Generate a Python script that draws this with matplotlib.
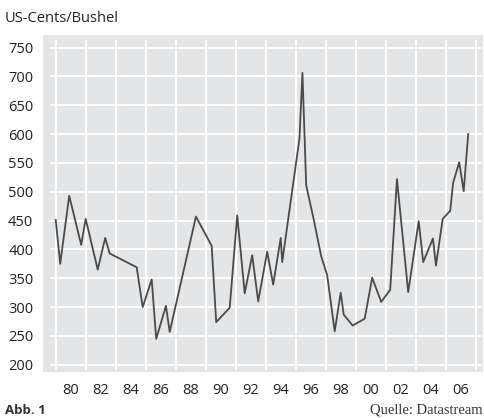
import matplotlib
matplotlib.use("Agg")
import matplotlib.pyplot as plt
from matplotlib.patches import Rectangle

# Preis in US-Cents/Bushel
jahr = [1979.0, 1979.3, 1979.9, 1980.7, 1981.0, 1981.8, 1982.3, 1982.6, 1984.4,
        1984.8, 1985.4, 1985.7, 1986.35, 1986.6, 1988.35, 1989.4, 1989.7, 1990.6,
        1991.1, 1991.6, 1992.1, 1992.5, 1993.1, 1993.5, 1994.0, 1994.1, 1995.25,
        1995.45, 1995.7, 1996.2, 1996.7, 1997.1, 1997.6, 1998.0, 1998.2, 1998.8,
        1999.6, 2000.1, 2000.7, 2001.3, 2001.75, 2002.5, 2003.2, 2003.5, 2004.15,
        2004.35, 2004.8, 2005.3, 2005.5, 2005.9, 2006.2, 2006.5]
preis = [451, 375, 493, 408, 453, 365, 420, 393, 369,
         300, 348, 245, 302, 257, 457, 406, 274, 299,
         459, 324, 390, 310, 396, 339, 420, 378, 592,
         706, 511, 452, 388, 355, 258, 325, 287, 268,
         280, 351, 309, 330, 522, 326, 449, 378, 419,
         372, 453, 467, 516, 551, 501, 600]

y_ticks = [200, 250, 300, 350, 400, 450, 500, 550, 600, 650, 700, 750]
x_ticks = list(range(1980, 2007, 2))
x_labels = ['%02d' % (j % 100) for j in x_ticks]
x_grid = list(range(1979, 2008, 2))

plt.rcParams['font.family'] = ['Open Sans', 'DejaVu Sans']

W, H = 485, 418
fig = plt.figure(figsize=(W / 100, H / 100), dpi=100)

grau = '#e4e5e7'
# Hintergrundfeld etwas groesser als die Achse
fig.patches.append(Rectangle((43 / W, 1 - 372 / H), (483 - 43) / W, (372 - 35) / H,
                             transform=fig.transFigure, facecolor=grau,
                             edgecolor='none', zorder=-10))

ax = fig.add_axes([50 / W, 1 - 370 / H, (482 - 50) / W, (370 - 40) / H])
ax.set_facecolor(grau)
ax.set_zorder(1)

ax.plot(jahr, preis, color='#4a4a4a', lw=1.3, zorder=3)

ax.set_xlim(1978.62, 2007.42)
ax.set_ylim(191, 763)

ax.set_yticks(y_ticks)
ax.set_xticks(x_ticks)
ax.set_xticklabels(x_labels)
ax.set_xticks(x_grid, minor=True)
ax.grid(False)
ax.grid(True, which='minor', axis='x', color='white', lw=1.4, zorder=1)
ax.grid(True, which='major', axis='y', color='white', lw=1.4, zorder=1)

ax.tick_params(axis='both', which='both', length=0, labelsize=10.5, colors='#222222')
ax.tick_params(axis='y', pad=12)
ax.tick_params(axis='x', pad=9)
for s in ax.spines.values():
    s.set_visible(False)

fig.text(5 / W, 1 - 18 / H, 'US-Cents/Bushel', fontsize=10.5, va='center', ha='left',
         color='#222222')
fig.text(5 / W, 1 - 411 / H, 'Abb. 1', fontsize=9.5, fontweight='bold', va='center',
         ha='left', color='#333333')
fig.text(483 / W, 1 - 410 / H, 'Quelle: Datastream', fontsize=10.5, va='center',
         ha='right', color='#333333', family='Liberation Serif')

fig.savefig('out.png', dpi=100)
